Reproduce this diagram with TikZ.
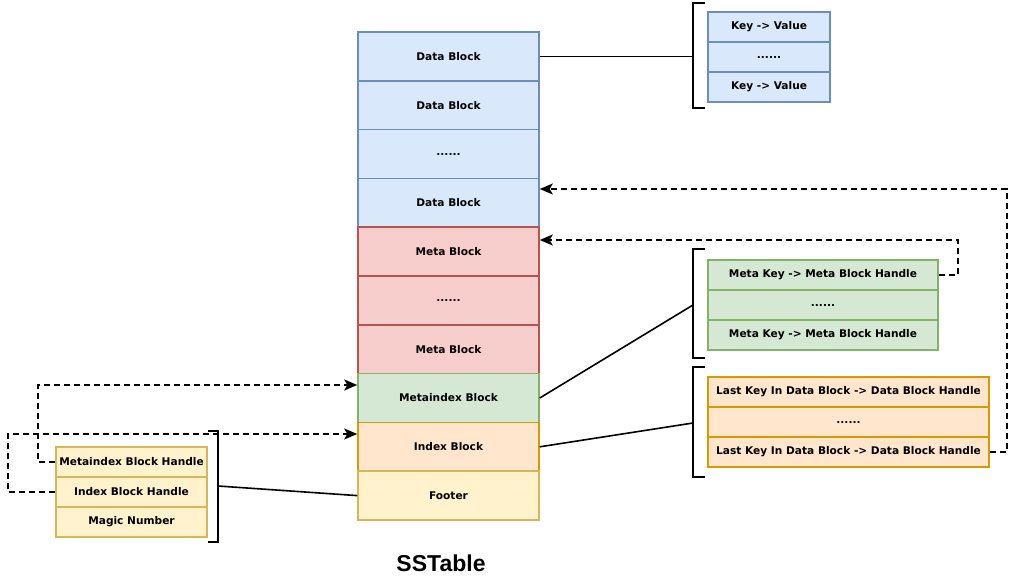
\documentclass[tikz,border=0pt]{standalone}
\usepackage{fontspec}
\setmainfont{Liberation Sans}
\newfontfamily\cellfont{DejaVu Sans}
\usetikzlibrary{arrows.meta}
\definecolor{bfill}{HTML}{DAE8FC}\definecolor{bline}{HTML}{6C8EBF}
\definecolor{rfill}{HTML}{F8CECC}\definecolor{rline}{HTML}{B85450}
\definecolor{gfill}{HTML}{D5E8D4}\definecolor{gline}{HTML}{82B366}
\definecolor{ofill}{HTML}{FFE6CC}\definecolor{oline}{HTML}{D79B00}
\definecolor{yfill}{HTML}{FFF2CC}\definecolor{yline}{HTML}{D6B656}
\tikzset{
  cell/.style={draw, line width=1.5pt, inner sep=0pt, font=\cellfont\fontsize{10.6}{12}\selectfont\bfseries},
  blk/.style={cell, minimum width=181pt, minimum height=48.8pt},
  blue/.style={fill=bfill, draw=bline},
  red/.style={fill=rfill, draw=rline},
  green/.style={fill=gfill, draw=gline},
  orange/.style={fill=ofill, draw=oline},
  yellow/.style={fill=yfill, draw=yline},
  kvcell/.style={cell, blue, minimum width=122pt, minimum height=30pt},
  mkcell/.style={cell, green, minimum width=230pt, minimum height=30pt},
  lkcell/.style={cell, orange, minimum width=281pt, minimum height=30pt},
  fhcell/.style={cell, yellow, minimum width=151pt, minimum height=30pt},
  brk/.style={draw, line width=1.6pt},
  link/.style={draw, line width=1.6pt},
  dsh/.style={draw, line width=1.6pt, dash pattern=on 6pt off 4pt, -{Stealth[length=13pt,width=11pt,inset=3pt]}},
}
\begin{document}
\begin{tikzpicture}[x=1pt,y=-1pt]
\useasboundingbox (0,0) rectangle (1017,584);
% central column
\node[blk,blue]   (d1) at (448.5,56.4)  {Data Block};
\node[blk,blue]   (d2) at (448.5,105.2) {Data Block};
\node[blk,blue]   (d3) at (448.5,154.0) {......};
\node[blk,blue]   (d4) at (448.5,202.8) {Data Block};
\node[blk,red]    (m1) at (448.5,251.6) {Meta Block};
\node[blk,red]    (m2) at (448.5,300.4) {......};
\node[blk,red]    (m3) at (448.5,349.2) {Meta Block};
\node[blk,green]  (mi) at (448.5,398.0) {Metaindex Block};
\node[blk,orange] (ix) at (448.5,446.8) {Index Block};
\node[blk,yellow] (ft) at (448.5,495.6) {Footer};
\node[font=\fontsize{23}{26}\selectfont\bfseries] (title) at (441,563) {SSTable};
% key value box
\node[kvcell] (kv1) at (769,27) {Key -> Value};
\node[kvcell] (kv2) at (769,57) {......};
\node[kvcell] (kv3) at (769,87) {Key -> Value};
% meta index box
\node[mkcell] (mk1) at (823,275) {Meta Key -> Meta Block Handle};
\node[mkcell] (mk2) at (823,305) {......};
\node[mkcell] (mk3) at (823,335) {Meta Key -> Meta Block Handle};
% index box
\node[lkcell] (lk1) at (848.5,392) {Last Key In Data Block -> Data Block Handle};
\node[lkcell] (lk2) at (848.5,422) {......};
\node[lkcell] (lk3) at (848.5,452) {Last Key In Data Block -> Data Block Handle};
% footer box
\node[fhcell] (fh1) at (131.5,462) {Metaindex Block Handle};
\node[fhcell] (fh2) at (131.5,492) {Index Block Handle};
\node[fhcell] (fh3) at (131.5,522) {Magic Number};
% brackets
\path[brk] (705,3) -- (693,3) -- (693,108) -- (705,108);
\path[brk] (705,249) -- (693,249) -- (693,358) -- (705,358);
\path[brk] (705,367) -- (693,367) -- (693,477) -- (705,477);
\path[brk] (208,431) -- (218,431) -- (218,542) -- (208,542);
\coordinate (bk1) at (693,56.4);
\coordinate (bk2) at (693,305);
\coordinate (bk3) at (693,423);
\coordinate (bk4) at (218,486);
% links
\path[link] (d1.east) -- (bk1);
\path[link] (mi.east) -- (bk2);
\path[link] (ix.east) -- (bk3);
\path[link] (ft.west) -- (bk4);
% dashed pointers
\path[dsh] (mk1.east) -| (958,240) -- ([yshift=11.6pt]m1.east);
\path[dsh] (lk3.east) -| (1007,189) -- ([yshift=13.8pt]d4.east);
\path[dsh] (fh1.west) -| (38,385) -- ([yshift=13pt]mi.west);
\path[dsh] (fh2.west) -| (8,434) -- ([yshift=12.8pt]ix.west);
\end{tikzpicture}
\end{document}
